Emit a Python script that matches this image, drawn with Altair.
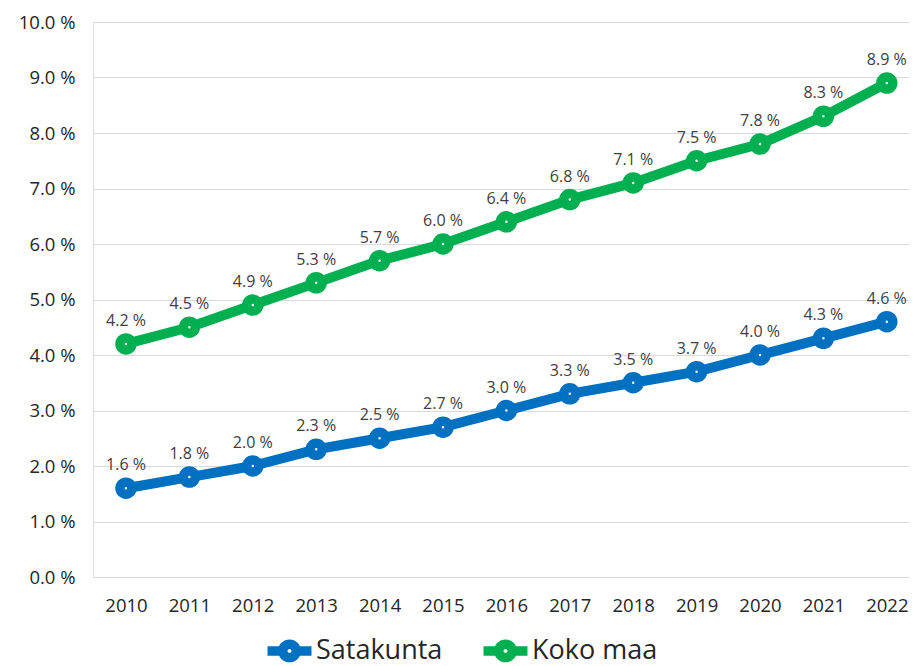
import altair as alt
import pandas as pd

years = list(range(2010, 2023))
satakunta = [1.6, 1.8, 2.0, 2.3, 2.5, 2.7, 3.0, 3.3, 3.5, 3.7, 4.0, 4.3, 4.6]
koko_maa = [4.2, 4.5, 4.9, 5.3, 5.7, 6.0, 6.4, 6.8, 7.1, 7.5, 7.8, 8.3, 8.9]
series_names = ["Satakunta", "Koko maa"]
series_colors = ["#0070C0", "#00B050"]
y_ticks = [0, 1, 2, 3, 4, 5, 6, 7, 8, 9, 10]

rows = []
for name, vals in zip(series_names, [satakunta, koko_maa]):
    for yr, v in zip(years, vals):
        rows.append({"year": yr, "value": v, "series": name,
                     "label": f"{v:.1f} %"})
df = pd.DataFrame(rows)

FONT = "Open Sans"
TXT = "#262626"

legend_path = "M-3.26,0L-1,0M1,0L3.26,0M1,0A1,1,0,1,1,-1,0A1,1,0,1,1,1,0Z"

color = alt.Color(
    "series:N",
    scale=alt.Scale(domain=series_names, range=series_colors),
    sort=series_names,
    legend=alt.Legend(
        title=None, orient="none", direction="horizontal",
        legendX=183, legendY=615, padding=0,
        symbolType=legend_path, symbolSize=182, symbolStrokeWidth=9.5,
        symbolFillColor="white", symbolOpacity=1,
        labelFontSize=27, labelFont=FONT, labelColor=TXT, labelOffset=13,
        columnPadding=21, labelLimit=300,
    ),
)

base = alt.Chart(df).encode(
    x=alt.X("year:Q",
            scale=alt.Scale(domain=[2009.48, 2022.35], nice=False, zero=False),
            axis=alt.Axis(values=years, format="d", title=None, grid=False,
                          domain=False, ticks=False, labelFlush=False,
                          labelFontSize=18.5, labelFont=FONT, labelColor=TXT,
                          labelPadding=19)),
    y=alt.Y("value:Q",
            scale=alt.Scale(domain=[0, 10], nice=False, zero=True),
            axis=alt.Axis(values=y_ticks, title=None, domain=False, ticks=False,
                          labelExpr="format(datum.value, '.1f') + ' %'",
                          gridColor="#d9d9d9", gridWidth=1,
                          labelFontSize=18.5, labelFont=FONT, labelColor=TXT,
                          labelPadding=18)),
    color=color,
)

lines = base.mark_line(strokeWidth=10)
points = base.mark_point(filled=False, fill="white", fillOpacity=1, opacity=1,
                         strokeWidth=9.5, size=143, shape="circle")
labels = base.mark_text(baseline="alphabetic", dy=-18, fontSize=16, font=FONT).encode(
    text="label:N", color=alt.value("#404040"))

chart = alt.layer(lines, points, labels).properties(
    width=816, height=555,
    autosize=alt.AutoSizeParams(type="none"),
    padding={"left": 85, "top": 14, "right": 0, "bottom": 89},
).configure_view(stroke=None).configure(font=FONT, background="white")

chart.save("out.html", embed_options={"renderer": "svg", "actions": False})
